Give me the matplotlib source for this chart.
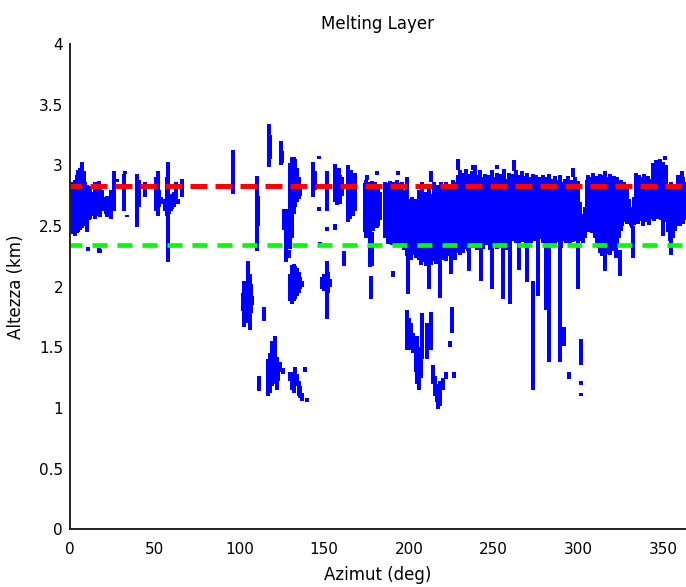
import numpy as np
import matplotlib
matplotlib.use("Agg")
import matplotlib.pyplot as plt

plt.rcParams["font.family"] = ["DejaVu Sans"]
plt.rcParams["lines.scale_dashes"] = False

# Melting-layer reference heights (km)
ML_TOP = 2.83
ML_BOTTOM = 2.34

X_MAX = 363.6
Y_MAX = 4.0
X_TICKS = [0, 50, 100, 150, 200, 250, 300, 350]
Y_TICKS = [0, 0.5, 1, 1.5, 2, 2.5, 3, 3.5, 4]
Y_TICK_LABELS = ["0", "0.5", "1", "1.5", "2", "2.5", "3", "3.5", "4"]

# Continuous echo band sampled every degree, azimuth 198..363
BAND_START = 198
BAND_TOP = [
    2.78, 2.90, 2.72, 2.70, 2.74, 2.68, 2.72, 2.70,
    2.80, 2.66, 2.86, 2.72, 2.78, 2.68, 2.84, 2.70, 2.76, 2.86, 2.74,
    2.84, 2.80, 2.86, 2.78, 2.82, 2.86, 2.80, 2.84, 2.78, 2.88, 2.82, 2.86,
    2.92, 2.96, 2.88, 2.94, 2.90, 2.97, 2.86, 2.93,
    2.95, 2.88, 3.00, 2.92, 2.86, 2.96, 2.90, 2.84, 2.93, 2.89,
    2.92, 2.86, 2.96, 2.90, 2.84, 2.94, 2.88, 2.93, 2.83, 2.97, 2.89, 2.86, 2.94, 2.90,
    2.93, 2.88, 2.96, 2.86, 2.92, 2.89, 2.95, 2.87, 2.91, 2.94, 2.86, 2.90, 2.93, 2.88,
    2.92, 2.85, 2.90,
    2.88, 2.92, 2.84, 2.90, 2.86, 2.93, 2.85, 2.89, 2.91, 2.84, 2.88, 2.92, 2.86, 2.83,
    2.89, 2.87, 2.91, 2.84, 2.88, 2.86, 2.90, 2.85, 2.87,
    2.70, 2.60, 2.58, 2.66,
    2.88, 2.92, 2.86, 2.90, 2.94, 2.88, 2.91, 2.86, 2.93, 2.89, 2.92, 2.95, 2.90, 2.87,
    2.93, 2.88, 2.91, 2.86, 2.90, 2.84, 2.88, 2.82, 2.86, 2.80, 2.84,
    2.72, 2.66, 2.62, 2.74,
    2.94, 2.88, 2.92, 2.86, 2.90, 2.93, 2.87, 2.91, 2.85, 2.89,
    3.02, 2.96, 3.04, 2.98, 3.05, 2.97, 3.03, 2.95, 3.00,
    2.82, 2.78, 2.86, 2.80, 2.84, 2.79,
    2.92, 2.88, 2.95, 2.90, 2.86,
]
BAND_BASE = [
    2.30, 2.25, 2.28, 2.22, 2.30, 2.26, 2.24, 2.28,
    2.22, 2.18, 2.20, 2.25, 2.17, 2.20, 2.24, 2.18, 2.21, 2.26, 2.19,
    2.24, 2.20, 2.26, 2.22, 2.28, 2.21, 2.25, 2.30, 2.24, 2.27, 2.22, 2.28,
    2.30, 2.26, 2.33, 2.28, 2.31, 2.35, 2.29, 2.32,
    2.36, 2.32, 2.38, 2.30, 2.35, 2.39, 2.33, 2.31, 2.37, 2.34,
    2.35, 2.30, 2.38, 2.33, 2.36, 2.31, 2.39, 2.34, 2.32, 2.37, 2.35, 2.30, 2.36, 2.33,
    2.38, 2.42, 2.36, 2.40, 2.34, 2.43, 2.37, 2.41, 2.35, 2.39, 2.44, 2.36, 2.40, 2.38,
    2.42, 2.35, 2.39,
    2.40, 2.36, 2.42, 2.34, 2.38, 2.30, 2.36, 2.40, 2.33, 2.37, 2.41, 2.35, 2.32, 2.38,
    2.42, 2.36, 2.39, 2.34, 2.41, 2.37, 2.42, 2.38, 2.40,
    2.42, 2.38, 2.36, 2.40,
    2.48, 2.45, 2.50, 2.44, 2.47, 2.40, 2.36, 2.32, 2.28, 2.25, 2.30, 2.22, 2.27, 2.31,
    2.26, 2.33, 2.29, 2.24, 2.35, 2.40, 2.46, 2.50, 2.53, 2.55, 2.52,
    2.52, 2.50, 2.48, 2.51,
    2.56, 2.52, 2.58, 2.54, 2.50, 2.57, 2.53, 2.55, 2.51, 2.56,
    2.58, 2.54, 2.60, 2.56, 2.61, 2.55, 2.59, 2.53, 2.57,
    2.45, 2.38, 2.32, 2.40, 2.46, 2.50,
    2.54, 2.50, 2.56, 2.52, 2.55,
]

# Individual echo columns: azimuth (deg), base and top height (km)
SEG_AZ = [
    # 0-66 deg
    0.5, 1, 2, 3, 4, 5, 6, 7, 8, 9, 10, 11, 12, 13,
    10.5, 17, 18,
    15, 16, 17, 18, 19, 21, 22, 23, 24, 26, 28, 32, 33.6, 32.5,
    39.8, 40.5, 44.3, 51, 51.8, 52.5, 53.5,
    56, 58, 57.5, 58.5, 59.5, 60.5, 61.5, 62.5, 63.5, 66,
    # 95-170 deg, upper layer
    96.5, 110.5, 111, 117.5, 118, 124.5, 125,
    130, 131, 132, 133, 134, 135, 136,
    126.5, 127.5, 129,
    143.5, 144.5, 147, 147, 151.7,
    156.5, 157.5, 158.5, 159.5, 160.5,
    164, 165, 166, 167, 168,
    161.5, 147.5, 152, 156.5,
    # 100-180 deg, lower layers
    102, 103, 104, 105, 106, 107, 107.5, 114.5,
    130, 131, 132, 133, 134, 135, 136, 137,
    149, 150, 151.5, 152.5, 153.5,
    177.5, 178,
    111.5, 117, 118, 119, 120, 121, 122, 123, 124, 125.5,
    130, 131, 132, 133, 134, 135, 136, 137, 138.5, 140,
    # 174-197 deg
    174, 175, 176, 177, 178, 179, 180, 181, 182, 183,
    186, 187, 188, 189, 190, 191, 192, 193, 194, 195, 196, 197,
    190.5, 175.5, 181, 193.5,
    # 199-227 deg, lower cluster
    199, 200, 201, 202.5, 204, 205, 206, 207, 208, 211, 213, 214,
    215.5, 216.5, 217.5, 218.5, 220, 222, 225.5, 224.5, 226.5,
    # spikes below the band
    199.5, 212, 218.5, 225, 235.5, 242.5, 249, 255.5, 260, 265, 270,
    273.5, 276.5, 281, 283, 289, 291.5, 294.5, 300, 301.5, 301.5, 301.5,
    316, 324.5, 332.5, 350, 355,
    # isolated pixels above the band
    213, 229, 238, 252, 262, 351, 297,
]
SEG_LO = [
    2.50, 2.46, 2.43, 2.42, 2.44, 2.45, 2.47, 2.48, 2.50, 2.52, 2.45, 2.55, 2.56, 2.58,
    2.29, 2.28, 2.28,
    2.56, 2.58, 2.60, 2.57, 2.62, 2.60, 2.57, 2.62, 2.56, 2.62, 2.86, 2.62, 2.57, 2.93,
    2.49, 2.66, 2.74, 2.62, 2.58, 2.66, 2.68,
    2.62, 2.20, 2.58, 2.60, 2.62, 2.64, 2.66, 2.70, 2.68, 2.74,
    2.76, 2.29, 2.50, 2.99, 3.05, 3.00, 3.02,
    2.31, 2.40, 2.60, 2.66, 2.70, 2.72, 2.75,
    2.47, 2.20, 2.24,
    2.74, 2.80, 3.05, 2.62, 2.62,
    2.70, 2.67, 2.70, 2.68, 2.75,
    2.53, 2.56, 2.60, 2.58, 2.62,
    2.17, 2.34, 2.46, 2.47,
    1.80, 1.67, 1.70, 1.75, 1.64, 1.78, 1.85, 1.72,
    1.88, 1.86, 1.88, 1.90, 1.92, 1.95, 1.98, 2.00,
    1.98, 1.96, 1.73, 1.95, 2.00,
    1.90, 2.17,
    1.14, 1.10, 1.12, 1.18, 1.20, 1.25, 1.15, 1.22, 1.30, 1.28,
    1.22, 1.15, 1.12, 1.18, 1.20, 1.10, 1.08, 1.06, 1.30, 1.05,
    2.45, 2.40, 2.42, 2.16, 2.50, 2.46, 2.52, 2.48, 2.50, 2.55,
    2.40, 2.44, 2.35, 2.38, 2.34, 2.36, 2.33, 2.37, 2.34, 2.40, 2.35, 2.30,
    2.08, 2.88, 2.92, 2.92,
    1.48, 1.48, 1.55, 1.45, 1.30, 1.20, 1.15, 1.25, 1.40, 1.40, 1.48, 1.20,
    1.10, 1.05, 0.99, 1.02, 1.15, 1.24, 1.62, 1.50, 1.25,
    1.94, 1.98, 1.91, 2.10, 2.13, 2.05, 1.98, 1.90, 1.86, 2.14, 2.04,
    1.15, 1.92, 1.81, 1.38, 1.38, 1.51, 1.24, 1.98, 1.35, 1.19, 1.10,
    2.13, 2.09, 2.24, 2.42, 2.26,
    2.86, 2.96, 2.96, 2.97, 2.95, 3.04, 2.90,
]
SEG_HI = [
    2.84, 2.86, 2.85, 2.88, 2.92, 2.96, 2.98, 3.03, 2.95, 2.86, 2.84, 2.82, 2.83, 2.78,
    2.33, 2.32, 2.31,
    2.86, 2.84, 2.87, 2.82, 2.80, 2.74, 2.75, 2.72, 2.80, 2.95, 2.89, 2.93, 2.59, 2.95,
    2.93, 2.88, 2.86, 2.90, 2.95, 2.80, 2.74,
    2.72, 3.03, 2.90, 2.74, 2.76, 2.72, 2.78, 2.86, 2.72, 2.89,
    3.13, 2.91, 2.75, 3.34, 3.25, 3.20, 3.12,
    3.02, 3.07, 3.07, 3.05, 2.98, 2.90, 2.82,
    2.64, 2.64, 2.30,
    3.03, 2.95, 3.08, 2.66, 2.95,
    3.01, 2.95, 2.98, 2.92, 2.90,
    3.00, 2.95, 2.96, 2.93, 2.94,
    2.29, 2.37, 2.49, 2.52,
    1.95, 2.05, 1.96, 2.21, 2.10, 2.02, 1.92, 1.83,
    2.10, 2.18, 2.19, 2.17, 2.15, 2.12, 2.08, 2.05,
    2.08, 2.10, 2.21, 2.12, 2.06,
    2.09, 2.45,
    1.26, 1.40, 1.45, 1.55, 1.50, 1.59, 1.42, 1.35, 1.38, 1.33,
    1.30, 1.28, 1.30, 1.34, 1.28, 1.22, 1.18, 1.12, 1.34, 1.08,
    2.85, 2.88, 2.86, 2.84, 2.87, 2.82, 2.86, 2.80, 2.84, 2.78,
    2.86, 2.85, 2.84, 2.87, 2.82, 2.86, 2.84, 2.88, 2.85, 2.83, 2.86, 2.80,
    2.13, 2.92, 2.95, 2.95,
    1.81, 1.74, 1.70, 1.62, 1.55, 1.59, 1.50, 1.45, 1.78, 1.70, 1.79, 1.35,
    1.26, 1.20, 1.15, 1.22, 1.25, 1.30, 1.83, 1.55, 1.30,
    2.40, 2.30, 2.30, 2.30, 2.40, 2.35, 2.35, 2.35, 2.35, 2.40, 2.40,
    2.05, 2.40, 2.40, 2.47, 2.45, 1.67, 1.30, 2.42, 1.57, 1.22, 1.12,
    2.30, 2.30, 2.50, 2.55, 2.40,
    2.95, 3.05, 3.00, 3.00, 3.04, 3.08, 2.98,
]

band_az = BAND_START + np.arange(len(BAND_TOP))

fig = plt.figure(figsize=(6.86, 5.87), dpi=100)
ax = fig.add_axes([0.1020, 0.0983, 0.8980, 0.8268])

blue = (0, 0, 1)
ax.vlines(band_az, BAND_BASE, BAND_TOP, colors=[blue], linewidth=1.5,
          antialiased=False)
ax.vlines(SEG_AZ, SEG_LO, SEG_HI, colors=[blue], linewidth=1.5,
          antialiased=False)

ax.axhline(ML_TOP, color=(1, 0, 0), linewidth=3.6,
           linestyle=(3.6, (12.2, 5.8)), dash_capstyle="butt")
ax.axhline(ML_BOTTOM, color=(0, 1, 0), linewidth=3.4,
           linestyle=(2.2, (10.8, 7.2)), dash_capstyle="butt")

ax.set_xlim(0, X_MAX)
ax.set_ylim(0, Y_MAX)
ax.set_xticks(X_TICKS)
ax.set_yticks(Y_TICKS)
ax.set_yticklabels(Y_TICK_LABELS)
ax.tick_params(axis="both", length=0, labelsize=11)
ax.tick_params(axis="x", pad=9)
ax.tick_params(axis="y", pad=5)

for side in ("top", "right"):
    ax.spines[side].set_visible(False)
for side in ("left", "bottom"):
    ax.spines[side].set_linewidth(1.4)
    ax.spines[side].set_color("#222222")

ax.set_title("Melting Layer", fontsize=12, pad=11)
ax.set_xlabel("Azimut (deg)", fontsize=12)
ax.set_ylabel("Altezza (km)", fontsize=12)
ax.xaxis.set_label_coords(0.5, -0.076)
ax.yaxis.set_label_coords(-0.073, 0.5)

fig.savefig("out.png", dpi=100)
